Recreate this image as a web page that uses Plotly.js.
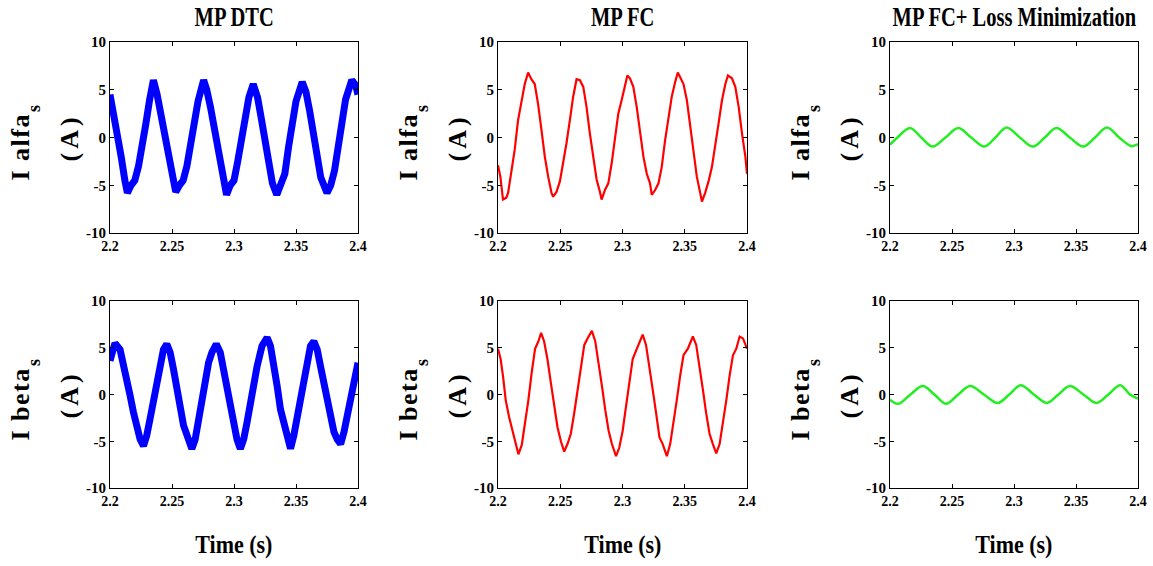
<!DOCTYPE html>
<html>
<head>
<meta charset="utf-8">
<script src="https://cdn.plot.ly/plotly-3.0.1.min.js"></script>
<style>html,body{margin:0;padding:0;background:#fff;}#chart{width:1153px;height:566px;}</style>
</head>
<body>
<div id="chart"></div>
<script>
// ---------- data ----------
const columnTitles = ["MP DTC", "MP FC", "MP FC+ Loss Minimization"];
const rowLabels = ["I alfa", "I beta"];
const rowSubscript = "s";
const unitLabel = "(A)";
const xLabel = "Time (s)";
const xTickVals = [2.2, 2.25, 2.3, 2.35, 2.4];
const xTickText = ["2.2", "2.25", "2.3", "2.35", "2.4"];
const yTickVals = [-10, -5, 0, 5, 10];
const yTickText = ["-10", "-5", "0", "5", "10"];

// MP DTC, I alfa
const tDtcAlfa = [2.200,2.203,2.206,2.209,2.212,2.214,2.217,2.220,2.223,2.226,2.229,2.232,2.235,2.238,2.241,2.244,2.247,2.250,2.253,2.256,2.259,2.262,2.265,2.268,2.271,2.2755,2.278,2.281,2.284,2.287,2.290,2.294,2.297,2.300,2.303,2.306,2.309,2.312,2.3155,2.319,2.322,2.325,2.328,2.331,2.3345,2.338,2.341,2.344,2.347,2.350,2.355,2.358,2.361,2.364,2.367,2.370,2.375,2.378,2.381,2.384,2.387,2.390,2.395,2.398,2.400];
const iDtcAlfa = [4.5,2.5,0.5,-2.0,-4.5,-5.8,-5.0,-4.5,-3.0,-1.0,1.5,4.0,6.0,4.5,2.5,0.3,-2.0,-4.2,-5.7,-5.0,-4.5,-3.0,-0.8,1.5,3.8,6.0,5.0,3.2,1.0,-1.2,-3.5,-6.0,-5.0,-4.5,-2.5,0.0,2.2,4.2,5.6,4.2,2.0,-0.3,-2.8,-4.8,-6.0,-5.0,-3.8,-1.0,1.5,3.8,5.8,4.8,2.8,0.3,-2.2,-4.2,-5.8,-5.0,-3.5,-0.8,1.8,4.0,6.0,5.5,4.5];

// MP FC, I alfa
const tFcAlfa = [2.2000,2.2019,2.2040,2.2067,2.2081,2.2107,2.2134,2.2161,2.2188,2.2215,2.2242,2.2268,2.2295,2.2322,2.2349,2.2376,2.2403,2.2430,2.2443,2.2470,2.2497,2.2523,2.2550,2.2577,2.2604,2.2631,2.2658,2.2685,2.2711,2.2738,2.2765,2.2792,2.2819,2.2832,2.2859,2.2886,2.2913,2.2940,2.2966,2.2993,2.3020,2.3039,2.3060,2.3087,2.3114,2.3141,2.3168,2.3195,2.3221,2.3235,2.3262,2.3289,2.3315,2.3342,2.3369,2.3396,2.3423,2.3444,2.3463,2.3490,2.3517,2.3544,2.3570,2.3597,2.3624,2.3638,2.3664,2.3691,2.3718,2.3745,2.3772,2.3799,2.3826,2.3847,2.3879,2.3906,2.3933,2.3960,2.3987,2.4000];
const iFcAlfa = [-2.9,-4.1,-6.5,-6.3,-5.8,-3.7,-1.3,1.8,3.9,5.6,6.8,6.1,5.6,3.5,0.8,-2.0,-4.1,-5.8,-6.2,-5.7,-4.6,-2.7,-0.6,1.8,4.3,6.1,6.0,5.3,3.2,0.4,-2.0,-4.4,-5.7,-6.5,-5.5,-4.8,-2.7,-0.3,2.5,3.9,5.6,6.5,6.2,5.3,3.2,0.4,-2.0,-3.8,-4.8,-6.0,-5.5,-4.8,-3.1,-0.3,2.2,4.3,5.8,6.8,6.3,5.6,3.9,1.1,-1.7,-4.1,-5.8,-6.7,-5.8,-4.6,-3.1,-1.0,1.5,3.9,5.6,6.5,6.2,5.3,3.2,0.4,-2.0,-3.8];

// MP FC + Loss Minimization, I alfa
const tLmAlfa = [2.2000,2.2060,2.2161,2.2252,2.2344,2.2447,2.2550,2.2655,2.2760,2.2850,2.2940,2.3047,2.3154,2.3248,2.3342,2.3450,2.3557,2.3653,2.3750,2.3848,2.3946,2.4000];
const iLmAlfa = [-0.75,0.0,1.0,0.0,-0.95,0.0,1.0,0.0,-0.95,0.0,1.05,0.0,-0.95,0.0,1.0,0.0,-0.95,0.0,1.05,0.0,-0.9,-0.7];

// MP DTC, I beta
const tDtcBeta = [2.2000,2.2040,2.2081,2.2121,2.2162,2.2189,2.2216,2.2243,2.2270,2.2296,2.2323,2.2350,2.2377,2.2404,2.2431,2.2458,2.2485,2.2512,2.2539,2.2566,2.2593,2.2633,2.2660,2.2687,2.2714,2.2741,2.2768,2.2795,2.2822,2.2857,2.2889,2.2916,2.2943,2.2970,2.2997,2.3024,2.3051,2.3078,2.3105,2.3132,2.3159,2.3186,2.3226,2.3267,2.3294,2.3321,2.3348,2.3375,2.3402,2.3429,2.3456,2.3482,2.3509,2.3536,2.3563,2.3590,2.3617,2.3644,2.3671,2.3698,2.3725,2.3752,2.3779,2.3806,2.3833,2.3860,2.3887,2.3914,2.3941,2.3968,2.4000];
const iDtcBeta = [3.6,5.5,4.8,2.7,-0.1,-1.9,-3.7,-4.8,-5.5,-4.4,-2.6,-0.5,1.6,3.8,4.8,5.4,4.5,2.7,0.6,-1.6,-3.3,-4.8,-5.8,-4.8,-2.6,-0.5,1.6,3.4,4.5,5.4,4.5,2.7,0.6,-1.6,-3.3,-4.8,-5.8,-4.8,-3.0,-0.9,1.3,3.0,5.2,6.1,5.2,3.4,0.9,-1.6,-3.3,-4.8,-5.8,-4.4,-2.3,-0.1,2.0,4.1,5.2,5.7,4.8,3.0,1.3,-1.2,-3.0,-4.0,-4.8,-5.3,-4.0,-2.3,-0.1,1.6,3.4];

// MP FC, I beta
const tFcBeta = [2.2000,2.2021,2.2040,2.2062,2.2089,2.2115,2.2142,2.2164,2.2191,2.2217,2.2244,2.2271,2.2298,2.2325,2.2346,2.2370,2.2397,2.2424,2.2451,2.2478,2.2505,2.2532,2.2558,2.2585,2.2612,2.2639,2.2666,2.2693,2.2719,2.2754,2.2781,2.2808,2.2835,2.2862,2.2889,2.2915,2.2948,2.2974,2.3001,2.3028,2.3055,2.3082,2.3109,2.3136,2.3162,2.3189,2.3216,2.3243,2.3270,2.3297,2.3323,2.3356,2.3383,2.3409,2.3436,2.3463,2.3490,2.3525,2.3565,2.3592,2.3619,2.3646,2.3672,2.3699,2.3726,2.3753,2.3780,2.3807,2.3834,2.3860,2.3887,2.3914,2.3941,2.3968,2.4000];
const iFcBeta = [4.9,3.8,2.0,-0.6,-2.4,-3.7,-5.0,-6.4,-5.4,-3.1,-0.6,2.4,4.9,5.7,6.6,5.7,3.8,1.3,-1.3,-3.5,-5.0,-6.1,-5.3,-4.2,-2.0,0.5,3.1,5.3,6.0,6.8,5.7,3.5,0.9,-1.7,-3.9,-5.3,-6.6,-5.7,-3.9,-1.3,1.3,3.8,4.7,5.5,6.4,5.3,3.1,0.5,-2.0,-4.6,-5.3,-6.6,-5.3,-3.1,-0.6,2.0,4.2,4.9,6.2,5.3,3.1,0.5,-2.0,-4.2,-5.3,-6.3,-5.3,-3.1,-0.6,2.0,4.2,4.9,6.2,6.0,4.9];

// MP FC + Loss Minimization, I beta
const tLmBeta = [2.2000,2.2067,2.2165,2.2264,2.2358,2.2452,2.2550,2.2646,2.2757,2.2869,2.2962,2.3055,2.3160,2.3265,2.3358,2.3450,2.3560,2.3665,2.3760,2.3857,2.3935,2.4000];
const iLmBeta = [-0.55,-1.0,0.0,0.9,0.0,-1.0,0.0,0.9,0.0,-0.9,0.0,1.0,0.0,-0.9,0.0,0.9,0.0,-0.9,0.0,1.0,0.0,-0.45];

// ---------- drawing ----------
const series = [
  {t: tDtcAlfa, v: iDtcAlfa, color: "#0000ff", width: 7, shape: "linear"},
  {t: tFcAlfa,  v: iFcAlfa,  color: "#ff0000", width: 2.2, shape: "linear"},
  {t: tLmAlfa,  v: iLmAlfa,  color: "#22ee22", width: 2.5, shape: "spline"},
  {t: tDtcBeta, v: iDtcBeta, color: "#0000ff", width: 7, shape: "linear"},
  {t: tFcBeta,  v: iFcBeta,  color: "#ff0000", width: 2.2, shape: "linear"},
  {t: tLmBeta,  v: iLmBeta,  color: "#22ee22", width: 2.5, shape: "spline"}
];

const W = 1153, H = 566;
const colPx = [[110, 358], [498, 747], [890, 1138]];
const rowPx = [[42, 233], [301, 488]];
// label placement inside each row, px below row top: [main label centre, subscript centre]
const rowLabelPos = [[105, 67], [103, 62]];
const serif = "Liberation Serif, Times New Roman, serif";

const data = [];
const annStyle = [];   // per-annotation horizontal squeeze / spacing
const layout = {
  width: W, height: H,
  margin: {l: 0, r: 0, t: 0, b: 0},
  paper_bgcolor: "#ffffff", plot_bgcolor: "#ffffff",
  showlegend: false,
  annotations: []
};
function addAnn(a, st) { layout.annotations.push(a); annStyle.push(st); }

series.forEach((s, k) => {
  const r = Math.floor(k / 3), c = k % 3;
  const n = k + 1;
  const xa = n === 1 ? "xaxis" : "xaxis" + n;
  const ya = n === 1 ? "yaxis" : "yaxis" + n;
  data.push({
    x: s.t, y: s.v, type: "scatter", mode: "lines",
    xaxis: n === 1 ? "x" : "x" + n, yaxis: n === 1 ? "y" : "y" + n,
    line: {color: s.color, width: s.width, shape: s.shape, smoothing: 1},
    hoverinfo: "skip"
  });
  const common = {
    showline: true, mirror: "ticks", linecolor: "#000", linewidth: 1,
    ticks: "inside", ticklen: 4, tickcolor: "#000", tickwidth: 1,
    showgrid: false, zeroline: false, fixedrange: true,
    tickfont: {family: serif, size: 14, color: "#000", weight: "bold"}
  };
  layout[xa] = Object.assign({}, common, {
    domain: [colPx[c][0] / W, colPx[c][1] / W],
    range: [2.2, 2.4], tickmode: "array", tickvals: xTickVals, ticktext: xTickText,
    anchor: n === 1 ? "y" : "y" + n
  });
  layout[ya] = Object.assign({}, common, {
    domain: [1 - rowPx[r][1] / H, 1 - rowPx[r][0] / H],
    range: [-10, 10], tickmode: "array", tickvals: yTickVals, ticktext: yTickText,
    anchor: n === 1 ? "x" : "x" + n,
    tickfont: {family: serif, size: 15, color: "#000", weight: "bold"}
  });
  const yc = (rowPx[r][0] + rowPx[r][1]) / 2;
  addAnn({
    xref: "paper", yref: "paper", x: (colPx[c][0] - 90) / W, y: 1 - (rowPx[r][0] + rowLabelPos[r][0]) / H,
    text: rowLabels[r], textangle: -90, showarrow: false,
    xanchor: "center", yanchor: "middle",
    font: {family: serif, size: 26, color: "#000", weight: "bold"}
  }, {sx: 1, ls: "1.5px"});
  addAnn({
    xref: "paper", yref: "paper", x: (colPx[c][0] - 76) / W, y: 1 - (rowPx[r][0] + rowLabelPos[r][1]) / H,
    text: rowSubscript, textangle: -90, showarrow: false,
    xanchor: "center", yanchor: "middle",
    font: {family: serif, size: 18, color: "#000", weight: "bold"}
  }, {sx: 1, ls: null});
  addAnn({
    xref: "paper", yref: "paper", x: (colPx[c][0] - 41) / W, y: 1 - yc / H,
    text: unitLabel, textangle: -90, showarrow: false,
    xanchor: "center", yanchor: "middle",
    font: {family: serif, size: 26, color: "#000", weight: "bold"}
  }, {sx: 1, ls: "4px"});
  if (r === 0) {
    addAnn({
      xref: "paper", yref: "paper", x: (colPx[c][0] + colPx[c][1]) / 2 / W, y: 1 - 17 / H,
      text: columnTitles[c], showarrow: false, xanchor: "center", yanchor: "middle",
      font: {family: serif, size: 27, color: "#000", weight: "bold"}
    }, {sx: 0.76, ls: null});
  } else {
    addAnn({
      xref: "paper", yref: "paper", x: (colPx[c][0] + colPx[c][1]) / 2 / W, y: 1 - 545 / H,
      text: xLabel, showarrow: false, xanchor: "center", yanchor: "middle",
      font: {family: serif, size: 25, color: "#000", weight: "bold"}
    }, {sx: 0.88, ls: null});
  }
});

Plotly.newPlot("chart", data, layout, {displayModeBar: false, staticPlot: true}).then(() => {
  document.querySelectorAll("#chart g.annotation").forEach(g => {
    const i = +g.getAttribute("data-index");
    const st = annStyle[i];
    const t = g.querySelector("text.annotation-text");
    if (!st || !t) return;
    if (st.ls) t.style.letterSpacing = st.ls;
    if (st.sx !== 1) {
      t.style.transformBox = "fill-box";
      t.style.transformOrigin = "center";
      t.style.transform = "scaleX(" + st.sx + ")";
    }
  });
});
</script>
</body>
</html>
